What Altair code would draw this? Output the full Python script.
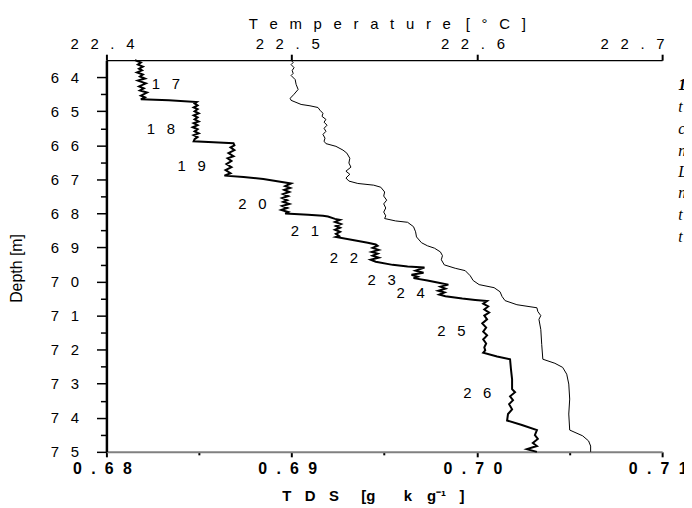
import altair as alt
import pandas as pd

# ---- TDS profile (thick line): depth [m], TDS [g/kg]
tds_depth = [63.50,63.57,63.63,63.69,63.75,63.80,63.86,63.92,63.98,64.04,64.10,64.18,64.27,64.33,64.39,64.45,64.54,64.59,64.65,64.68,
             64.73,64.77,64.83,64.89,64.94,65.00,65.06,65.12,65.18,65.24,65.30,65.35,65.41,65.47,65.53,65.59,65.65,65.70,65.76,65.82,
             65.88,65.91,65.94,66.00,66.06,66.14,66.23,66.32,66.38,66.46,66.55,66.64,66.73,66.82,66.89,66.93,66.99,67.12,67.20,67.25,
             67.31,67.37,67.43,67.49,67.55,67.61,67.66,67.72,67.78,67.84,67.90,67.96,68.00,68.04,68.07,68.09,68.16,68.19,68.25,68.31,
             68.37,68.42,68.48,68.54,68.60,68.66,68.69,68.78,68.86,68.91,68.95,69.01,69.07,69.13,69.18,69.24,69.30,69.36,69.42,69.51,
             69.56,69.59,69.68,69.74,69.80,69.86,69.90,69.97,70.03,70.09,70.15,70.21,70.27,70.32,70.38,70.43,70.50,70.54,70.57,70.65,
             70.73,70.82,70.91,71.00,71.11,71.23,71.35,71.47,71.58,71.70,71.82,71.93,72.02,72.09,72.20,72.28,72.58,72.87,73.16,73.25,
             73.37,73.48,73.60,73.75,73.89,74.08,74.21,74.36,74.51,74.62,74.74,74.83,74.92,75.00]
tds_value = [0.68154,0.68186,0.68170,0.68197,0.68176,0.68192,0.68165,0.68197,0.68181,0.68208,0.68170,0.68213,0.68176,0.68202,0.68181,0.68219,0.68186,0.68208,0.68186,0.68337,
             0.68487,0.68476,0.68492,0.68471,0.68492,0.68476,0.68498,0.68471,0.68492,0.68476,0.68498,0.68471,0.68492,0.68466,0.68492,0.68476,0.68498,0.68471,0.68492,0.68476,
             0.68471,0.68578,0.68686,0.68691,0.68670,0.68691,0.68659,0.68686,0.68654,0.68675,0.68648,0.68675,0.68643,0.68670,0.68637,0.68740,0.68847,0.68997,0.68965,0.68992,
             0.68960,0.68987,0.68954,0.68981,0.68949,0.68976,0.68954,0.68987,0.68949,0.68976,0.68944,0.68981,0.68965,0.69089,0.69169,0.69196,0.69234,0.69261,0.69234,0.69266,
             0.69239,0.69261,0.69234,0.69261,0.69239,0.69255,0.69239,0.69330,0.69411,0.69454,0.69464,0.69437,0.69470,0.69432,0.69464,0.69437,0.69470,0.69426,0.69454,0.69545,
             0.69626,0.69717,0.69669,0.69712,0.69647,0.69680,0.69658,0.69733,0.69787,0.69846,0.69803,0.69830,0.69792,0.69825,0.69797,0.69830,0.69921,0.69991,0.70055,0.70034,
             0.70061,0.70040,0.70066,0.70040,0.70055,0.70029,0.70050,0.70034,0.70055,0.70034,0.70050,0.70040,0.70045,0.70034,0.70109,0.70179,0.70184,0.70190,0.70190,0.70206,
             0.70179,0.70195,0.70174,0.70190,0.70168,0.70163,0.70243,0.70324,0.70313,0.70329,0.70302,0.70324,0.70270,0.70324]

# ---- Temperature profile (thin line): depth [m], temperature [degC]
temp_depth = [63.50,63.57,63.63,63.72,63.80,63.89,63.95,64.07,64.21,64.36,64.50,64.62,64.68,64.80,64.84,64.89,64.97,65.06,65.15,65.24,
              65.32,65.41,65.50,65.59,65.68,65.79,65.88,65.95,66.03,66.14,66.23,66.38,66.52,66.64,66.76,66.85,66.96,67.05,67.12,67.17,
              67.23,67.37,67.49,67.61,67.72,67.84,67.96,68.07,68.15,68.22,68.26,68.39,68.54,68.69,68.86,68.95,69.02,69.13,69.24,69.36,
              69.51,69.61,69.68,69.83,69.97,70.09,70.18,70.30,70.44,70.56,70.68,70.77,70.88,71.00,71.11,71.41,71.85,72.28,72.40,72.52,
              72.72,73.01,73.45,73.89,74.36,74.53,74.68,74.83,75.00]
temp_value = [22.4997,22.5008,22.4997,22.5013,22.5003,22.5008,22.4997,22.5019,22.5024,22.5035,22.5013,22.4992,22.4997,22.5051,22.5099,22.5142,22.5153,22.5169,22.5164,22.5185,
              22.5175,22.5191,22.5175,22.5185,22.5169,22.5180,22.5175,22.5185,22.5239,22.5277,22.5298,22.5314,22.5309,22.5320,22.5293,22.5314,22.5293,22.5309,22.5357,22.5443,
              22.5481,22.5502,22.5497,22.5513,22.5497,22.5508,22.5497,22.5508,22.5502,22.5561,22.5626,22.5658,22.5669,22.5674,22.5701,22.5733,22.5771,22.5803,22.5814,22.5808,
              22.5824,22.5883,22.5937,22.5964,22.5980,22.6012,22.6093,22.6125,22.6136,22.6152,22.6216,22.6324,22.6329,22.6345,22.6335,22.6345,22.6350,22.6356,22.6421,22.6463,
              22.6485,22.6496,22.6501,22.6496,22.6501,22.6571,22.6603,22.6614,22.6614]

# ---- Layer numbers
layer_names = ["17", "18", "19", "20", "21", "22", "23", "24", "25", "26"]
layer_tds = [0.68321, 0.68294, 0.68460, 0.68788, 0.69072, 0.69282, 0.69486, 0.69642, 0.69862, 0.70002]
layer_depth = [64.21, 65.53, 66.61, 67.72, 68.51, 69.30, 69.97, 70.35, 71.46, 73.28]

# ---- Cut-off caption fragments at right edge
cap_chars = ["1", "t", "c", "n", "L", "n", "t", "t"]
cap_bold = [True, False, False, False, False, False, False, False]
cap_tds = [0.71087, 0.71087, 0.71087, 0.71087, 0.71087, 0.71087, 0.71087, 0.71087]
cap_depth = [64.38, 65.02, 65.66, 66.30, 66.92, 67.56, 68.20, 68.84]

# ---- Axis tick values
depth_ticks = [64, 64.5, 65, 65.5, 66, 66.5, 67, 67.5, 68, 68.5, 69, 69.5, 70, 70.5, 71, 71.5, 72, 72.5, 73, 73.5, 74, 74.5, 75]
tds_ticks = [0.68, 0.685, 0.69, 0.695, 0.70, 0.705, 0.71]
temp_ticks = [22.4, 22.5, 22.6, 22.7]

FONT = "Liberation Sans"
GAP = "\u2002\u2009\u200a"
GB = "\u2002\u200a"
G13 = "\u2002\u2009\u2009"


def spaced(s, g=GAP):
    return g.join(list(s))


tds_df = pd.DataFrame({"depth": tds_depth, "tds": tds_value, "i": list(range(len(tds_depth)))})
temp_df = pd.DataFrame({"depth": temp_depth, "temp": temp_value, "i": list(range(len(temp_depth)))})
lab_df = pd.DataFrame({"depth": layer_depth, "tds": layer_tds, "txt": [spaced(s) for s in layer_names]})
cap_df = pd.DataFrame({"depth": cap_depth, "tds": cap_tds, "txt": cap_chars, "bold": cap_bold})

y_scale = alt.Scale(domain=[63.5, 75], reverse=True, nice=False, zero=False)
tds_scale = alt.Scale(domain=[0.68, 0.71], nice=False, zero=False)
temp_scale = alt.Scale(domain=[22.4, 22.7], nice=False, zero=False)

depth_major = "datum.value % 1 === 0"
tds_major = "abs(datum.value * 100 - round(datum.value * 100)) < 0.001"

y_axis = alt.Axis(
    orient="left",
    values=depth_ticks,
    labelExpr=depth_major + " ? join(split(toString(datum.value), ''), '" + GAP + "') : ''",
    tickSize={"condition": {"test": depth_major, "value": 10}, "value": 6},
    tickWidth=1.5, tickColor="black",
    domainColor="black", domainWidth=2.5,
    labelFont=FONT, labelFontSize=15, labelColor="black", labelPadding=18,
    labelOverlap=False,
    grid=False,
    title="Depth [m]", titleFont=FONT, titleFontSize=16, titleFontWeight="normal", titleColor="black",
    titleX=-85, titleY=209, titleAngle=270, titleAlign="center", titleBaseline="alphabetic",
)

bottom_title = (G13.join(["T", "D", "S"]) + "\u2003\u2002" + "[g" + "\u2003\u2002\u2009\u2009"
                + "k" + "\u2003" + "g\u207b\u00b9" + G13 + "]")
x_axis = alt.Axis(
    orient="bottom",
    values=tds_ticks,
    labelExpr=tds_major + " ? join(split(format(datum.value, '.2f'), ''), '" + GB + "') : ''",
    tickSize={"condition": {"test": tds_major, "value": 5}, "value": 3},
    tickWidth=2, tickColor="black",
    domainColor="#808080", domainWidth=2,
    labelFont=FONT, labelFontSize=16, labelFontWeight="bold", labelColor="black",
    labelPadding=4, labelOffset=-4.5, labelFlush=False, labelOverlap=False,
    grid=False,
    title=bottom_title, titleFont=FONT, titleFontSize=15, titleFontWeight="bold", titleColor="black",
    titleX=268, titleY=49, titleAlign="center", titleBaseline="alphabetic",
)

top_title = spaced("Temperature") + "\u2003" + spaced("[\u00b0C]")
top_axis = alt.Axis(
    orient="top",
    values=temp_ticks,
    labelExpr="join(split(format(datum.value, '.1f'), ''), '" + GAP + "')",
    tickSize=6, tickWidth=2, tickColor="black",
    domainColor="black", domainWidth=1.2,
    labelFont=FONT, labelFontSize=15, labelColor="black",
    labelPadding=3, labelFlush=False, labelOverlap=False,
    labelAlign={"condition": {"test": "datum.value > 22.65", "value": "right"}, "value": "center"},
    labelOffset={"condition": {"test": "datum.value > 22.65", "value": 2}, "value": -4.5},
    grid=False,
    title=top_title, titleFont=FONT, titleFontSize=15, titleFontWeight="normal", titleColor="black",
    titleX=282, titleY=-32, titleAlign="center", titleBaseline="alphabetic",
)

Y = alt.Y("depth:Q", scale=y_scale, axis=y_axis)

tds_line = alt.Chart(tds_df).mark_line(color="black", strokeWidth=2).encode(
    x=alt.X("tds:Q", scale=tds_scale, axis=x_axis),
    y=Y,
    order=alt.Order("i:Q"),
)

temp_line = alt.Chart(temp_df).mark_line(color="black", strokeWidth=1).encode(
    x=alt.X("temp:Q", scale=temp_scale, axis=top_axis),
    y=Y,
    order=alt.Order("i:Q"),
)

labels = alt.Chart(lab_df).mark_text(font=FONT, fontSize=15, color="black", align="center", baseline="middle").encode(
    x=alt.X("tds:Q", scale=tds_scale, axis=None),
    y=Y,
    text="txt:N",
)

cap_base = alt.Chart(cap_df).encode(
    x=alt.X("tds:Q", scale=tds_scale, axis=None),
    y=Y,
    text="txt:N",
)
cap_bold_layer = cap_base.transform_filter("datum.bold").mark_text(
    font="Liberation Serif", fontSize=16, fontStyle="italic", fontWeight="bold", color="black",
    align="left", baseline="alphabetic")
cap_norm_layer = cap_base.transform_filter("!datum.bold").mark_text(
    font="Liberation Serif", fontSize=16, fontStyle="italic", color="black",
    align="left", baseline="alphabetic")

chart = alt.layer(tds_line, temp_line, labels, cap_bold_layer, cap_norm_layer).resolve_scale(
    x="independent", y="shared"
).properties(
    width=559, height=394,
    autosize=alt.AutoSizeParams(type="none"),
    padding={"left": 99, "top": 51, "right": 22, "bottom": 53},
    background="white",
).configure_view(stroke=None)

chart.save("out.html", embed_options={"renderer": "svg", "actions": False})
